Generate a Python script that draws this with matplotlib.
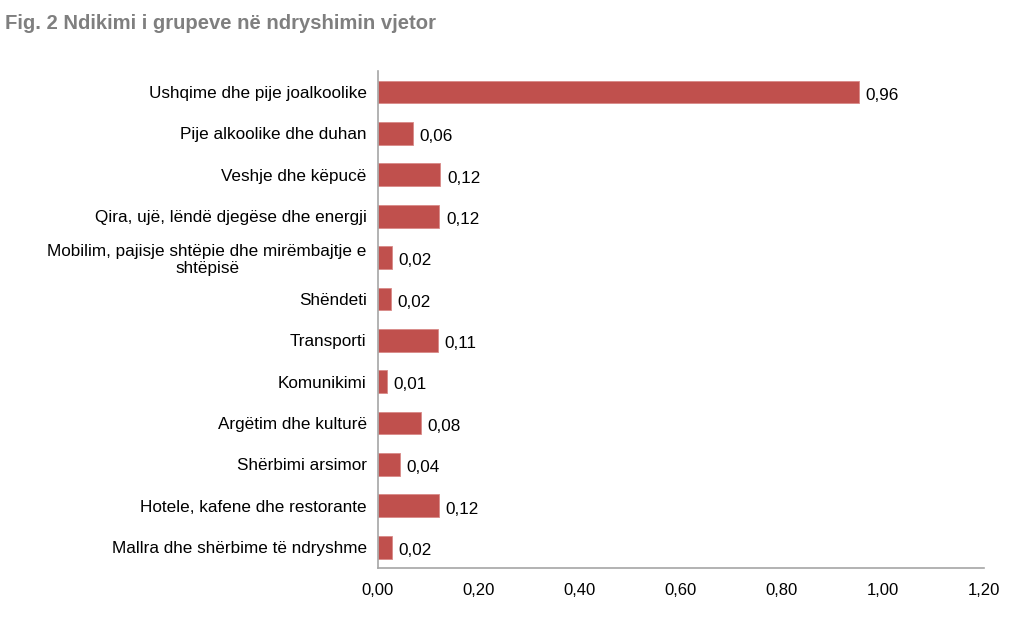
import matplotlib
matplotlib.use('Agg')
from matplotlib import pyplot as plt
from matplotlib.ticker import FuncFormatter

plt.rcParams['font.family'] = ['Liberation Sans', 'DejaVu Sans']

kategorite = [
    'Ushqime dhe pije joalkoolike',
    'Pije alkoolike dhe duhan',
    'Veshje dhe këpucë',
    'Qira, ujë, lëndë djegëse dhe energji',
    'Mobilim, pajisje shtëpie dhe mirëmbajtje e\nshtëpisë',
    'Shëndeti',
    'Transporti',
    'Komunikimi',
    'Argëtim dhe kulturë',
    'Shërbimi arsimor',
    'Hotele, kafene dhe restorante',
    'Mallra dhe shërbime të ndryshme',
]
# gjatesia e shiritave (lexuar nga grafiku)
ndikimi = [0.953, 0.069, 0.124, 0.122, 0.028, 0.026, 0.119, 0.018, 0.085, 0.043, 0.121, 0.028]
# vlerat e shkruara prane shiritave
etiketat = ['0,96', '0,06', '0,12', '0,12', '0,02', '0,02', '0,11', '0,01', '0,08', '0,04', '0,12', '0,02']

fig = plt.figure(figsize=(10.24, 6.2), dpi=100)
ax = fig.add_axes([0.369, 0.084, 0.592, 0.801])

y = list(range(len(kategorite)))
bars = ax.barh(y, ndikimi, height=0.55, color='#c0504d', edgecolor='#d98a88', linewidth=0.6)
for b, t in zip(bars, etiketat):
    ax.text(b.get_width() + 0.013, b.get_y() + b.get_height() / 2 + 0.08, t,
            va='center', ha='left', fontsize=12.3, color='#000000')

ax.set_ylim(len(kategorite) - 0.5, -0.5)
ax.set_xlim(0, 1.2)
ax.set_xticks([0, 0.2, 0.4, 0.6, 0.8, 1.0, 1.2])
ax.xaxis.set_major_formatter(FuncFormatter(lambda v, p: f'{v:.2f}'.replace('.', ',')))
ax.set_yticks(y)
ax.set_yticklabels(kategorite, fontsize=12.3)
ax.tick_params(axis='y', length=0, pad=8, labelsize=12.3)
ax.tick_params(axis='x', length=0, pad=11, labelsize=12)
for lbl in ax.get_yticklabels():
    lbl.set_multialignment('center')

for s in ['top', 'right']:
    ax.spines[s].set_visible(False)
for s in ['left', 'bottom']:
    ax.spines[s].set_color('#a6a6a6')
    ax.spines[s].set_linewidth(1.2)

fig.text(0.005, 0.962, 'Fig. 2 Ndikimi i grupeve në ndryshimin vjetor', fontsize=14.6,
         fontweight='bold', color='#7f7f7f', ha='left', va='center')

plt.savefig('out.png', dpi=100)
